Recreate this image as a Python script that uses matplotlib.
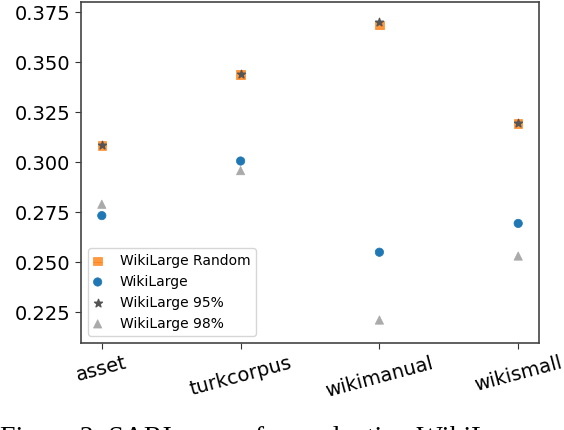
import matplotlib
matplotlib.use("Agg")
import matplotlib.pyplot as plt
import numpy as np

datasets = ["asset", "turkcorpus", "wikimanual", "wikismall"]
wl_random = [0.3082, 0.3438, 0.3685, 0.3193]
wl = [0.2732, 0.3005, 0.2549, 0.2693]
wl_95 = [0.3085, 0.3440, 0.3702, 0.3195]
wl_98 = [0.2789, 0.2957, 0.2210, 0.2530]
caption = "Figure 3: SARI scores for evaluating WikiLarge and"

fig = plt.figure(figsize=(5.64, 4.30), dpi=100)
ax = fig.add_axes([0.1436, 0.2023, 0.8121, 0.7930])
x = np.arange(len(datasets))

plt.rcParams['hatch.linewidth'] = 0.6
ax.scatter(x, wl_random, marker='s', color='#ff7f0e', alpha=0.8, hatch='--', edgecolor='#ff7f0e', linewidths=0.5, label="WikiLarge Random")
ax.scatter(x, wl, marker='o', color='#1f77b4', hatch='..', edgecolor='#1f77b4', linewidths=0.5, label="WikiLarge")
ax.scatter(x, wl_95, marker='*', color='#555555', label="WikiLarge 95%")
ax.scatter(x, wl_98, marker='^', color='#aaaaaa', hatch='..', edgecolor='#aaaaaa', linewidths=0.5, label="WikiLarge 98%")

ax.set_ylim(0.2095, 0.380)
ax.set_xlim(-0.15, 3.15)
ax.set_yticks([0.225, 0.250, 0.275, 0.300, 0.325, 0.350, 0.375])
ax.set_yticklabels(["0.225", "0.250", "0.275", "0.300", "0.325", "0.350", "0.375"], fontsize=14)
ax.set_xticks(x)
ax.set_xticklabels(datasets, fontsize=14, rotation=15)
ax.tick_params(axis='both', length=4, color='#333333')
for s in ax.spines.values():
    s.set_color('#444444')
    s.set_linewidth(1.2)

ax.legend(loc='lower left', fontsize=10, handletextpad=1.3, borderaxespad=0.5,
          labelspacing=0.5, handlelength=0.6)

fig.text(0.0, 0.010, caption, fontsize=20,
         family=['Liberation Serif', 'Nimbus Roman', 'Times New Roman', 'DejaVu Serif'],
         va='top', ha='left')
fig.savefig("out.png", dpi=100)
